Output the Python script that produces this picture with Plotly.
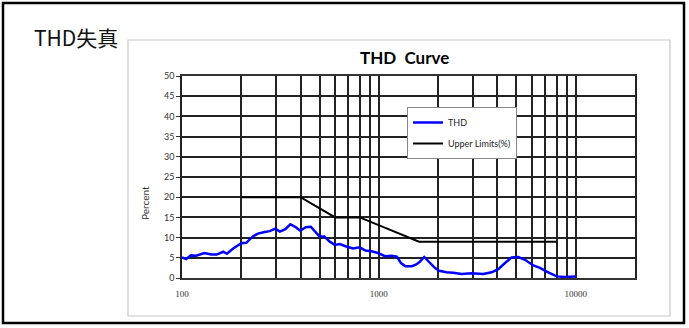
import plotly.graph_objects as go

# ---------------- data ----------------
thd_freq = [100, 105, 111, 118, 130, 141, 150, 162, 169, 182, 200, 212, 229, 243, 263, 279,
            298, 314, 335, 355, 377, 399, 425, 451, 482, 500, 528, 563, 598, 632, 684, 739,
            800, 855, 918, 989, 1073, 1162, 1235, 1295, 1364, 1470, 1540, 1615, 1700, 1815,
            1924, 2024, 2206, 2385, 2630, 2956, 3389, 3736, 4043, 4372, 4725, 5110, 5525,
            6090, 6585, 7122, 8005, 8830, 10000]
thd_values = [5.1, 4.7, 5.6, 5.5, 6.2, 5.8, 5.8, 6.5, 6.0, 7.3, 8.6, 8.7, 10.3, 11.0, 11.4, 11.6,
              12.2, 11.5, 12.1, 13.3, 12.6, 11.7, 12.6, 12.7, 11.1, 10.3, 10.3, 9.0, 8.2, 8.4, 7.8, 7.3,
              7.6, 6.8, 6.6, 6.2, 5.4, 5.5, 5.3, 3.7, 2.9, 2.9, 3.3, 4.0, 5.2, 3.7,
              2.5, 1.8, 1.4, 1.3, 1.0, 1.15, 1.0, 1.4, 2.2, 3.7, 5.1, 5.2, 4.5,
              3.1, 2.5, 1.6, 0.4, 0.25, 0.4]

limit_freq = [200, 400, 600, 800, 1600, 8000]
limit_values = [20, 20, 15, 15, 9, 9]

grid_freqs = [100, 200, 300, 400, 500, 600, 700, 800, 900,
              1000, 2000, 3000, 4000, 5000, 6000, 7000, 8000, 9000, 10000]
x_labels = {100: "100", 1000: "1000", 10000: "10000"}
y_ticks = [0, 5, 10, 15, 20, 25, 30, 35, 40, 45, 50]

# ---------------- layout geometry (pixels) ----------------
W, H = 689, 328
L, R, T, B = 182, 54, 76, 50
PW, PH = W - L - R, H - T - B


def px(x):
    return (x - L) / PW


def py(y):
    return (H - B - y) / PH


fig = go.Figure()
fig.add_trace(go.Scatter(x=thd_freq, y=thd_values, mode="lines", name="THD",
                         line=dict(color="#0000FF", width=2.5), legendgroup="a"))
fig.add_trace(go.Scatter(x=limit_freq, y=limit_values, mode="lines", name="Upper Limits(%)",
                         line=dict(color="#000000", width=2), legendgroup="b"))

fig.update_layout(
    width=W, height=H,
    margin=dict(l=L, r=R, t=T, b=B),
    paper_bgcolor="white", plot_bgcolor="white",
    showlegend=True,
    legend=dict(x=px(407), y=py(107), xanchor="left", yanchor="top",
                bgcolor="white", bordercolor="#888888", borderwidth=1,
                font=dict(family="Lato", size=9, color="#222"),
                tracegroupgap=2, traceorder="grouped", itemwidth=30),
    xaxis=dict(type="log", range=[2, 4.30103],
               tickmode="array", tickvals=grid_freqs,
               ticktext=[x_labels.get(f, "") for f in grid_freqs],
               showgrid=True, gridcolor="#222222", gridwidth=1.5,
               showline=True, linecolor="#333333", linewidth=1.5, mirror=True,
               ticks="", ticklabelstandoff=6, zeroline=False,
               tickfont=dict(family="Liberation Serif", size=9, color="#333")),
    yaxis=dict(range=[0, 50], tickmode="array", tickvals=y_ticks,
               showgrid=True, gridcolor="#222222", gridwidth=1.5,
               showline=True, linecolor="#222222", linewidth=1.5, mirror=True,
               ticks="outside", ticklen=4, tickcolor="#333", zeroline=False,
               tickfont=dict(family="Lato", size=9, color="#333")),
    shapes=[
        dict(type="rect", xref="paper", yref="paper",
             x0=px(3), x1=px(684), y0=py(3), y1=py(323),
             line=dict(color="black", width=2.5), layer="below"),
        dict(type="rect", xref="paper", yref="paper",
             x0=px(128), x1=px(670), y0=py(40), y1=py(316),
             line=dict(color="#c8c8c8", width=1.2), layer="below"),
    ],
    annotations=[
        dict(text="<b>THD  Curve</b>", xref="paper", yref="paper",
             x=px(404), y=py(58), xanchor="center", yanchor="middle", showarrow=False,
             font=dict(family="Lato", size=17, color="black")),
        dict(text="THD失真", xref="paper", yref="paper",
             x=px(32), y=py(37), xanchor="left", yanchor="middle", showarrow=False,
             font=dict(family="Noto Sans CJK TC", size=21, color="#111")),
        dict(text="Percent", xref="paper", yref="paper", textangle=-90,
             x=px(145), y=py(203), xanchor="center", yanchor="middle", showarrow=False,
             font=dict(family="Lato", size=10, color="#333")),
    ],
)

fig.write_html("out.html")
